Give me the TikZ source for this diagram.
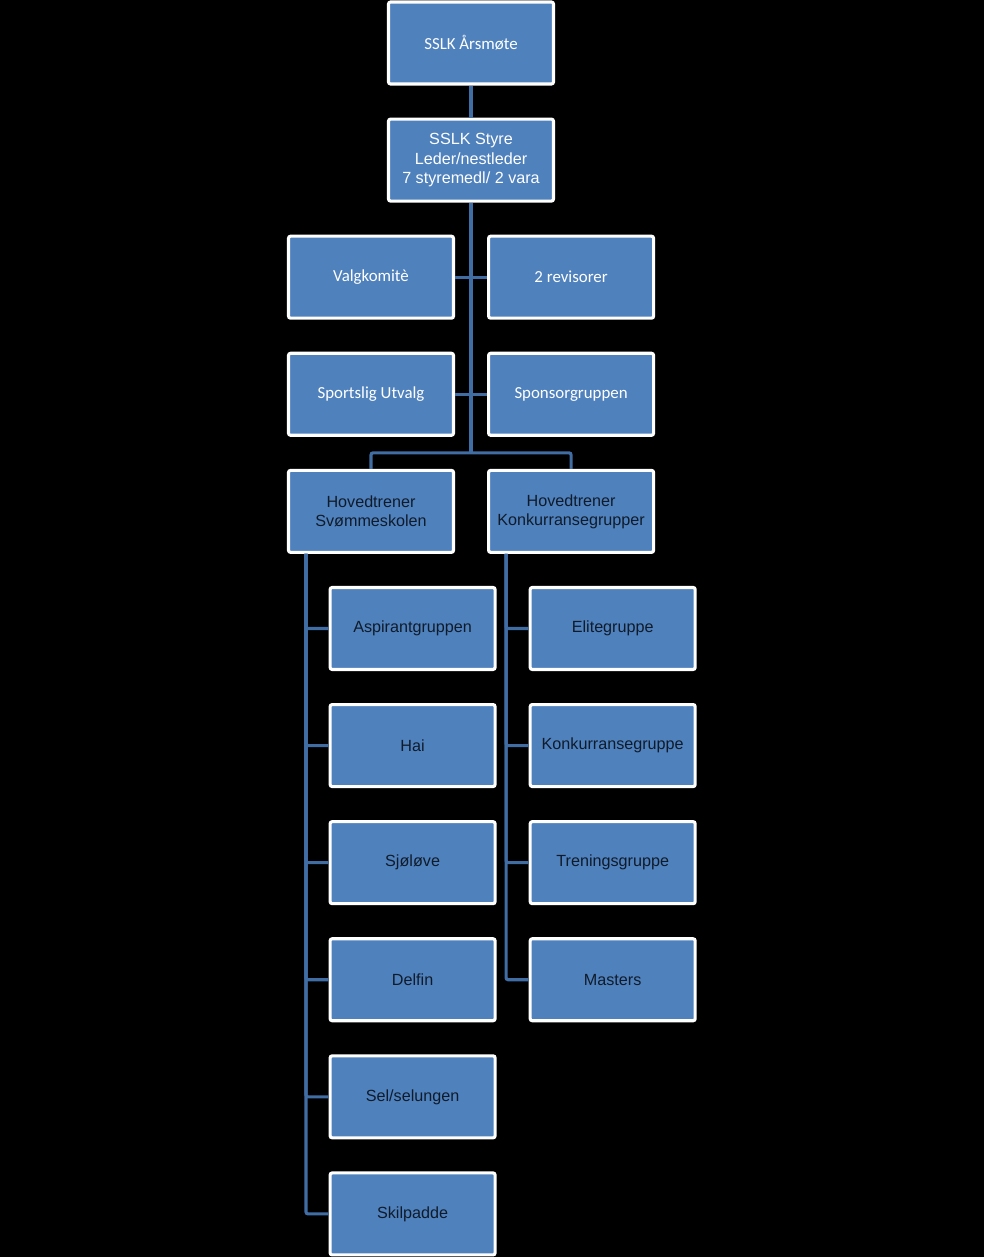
\documentclass[tikz,border=0pt]{standalone}
\usepackage{fontspec}
\setmainfont{Liberation Sans}
\newfontfamily\calibri{Carlito}
\usetikzlibrary{positioning,calc}
\definecolor{boxblue}{RGB}{79,129,189}
\definecolor{lineblue}{RGB}{65,109,165}
\definecolor{darktext}{RGB}{16,27,42}

\begin{document}
\begin{tikzpicture}[node distance=0.8cm,
  orgbox/.style={draw=white, line width=2.2pt, fill=boxblue, rounded corners=1.5pt,
    minimum width=4.125cm, minimum height=2.05cm, align=center, inner sep=1pt,
    font=\fontsize{11.5}{13.6}\selectfont, text=darktext},
  whitebox/.style={orgbox, text=white},
  calbox/.style={orgbox, text=white, font=\calibri\fontsize{12}{14}\selectfont},
  conn/.style={draw=lineblue, line width=2.2pt, rounded corners=1.5pt}]
  \fill[black] (0,0) rectangle (24.6,-31.425);
  \node[calbox] (aarsmote) at (11.775,-1.075) {SSLK Årsmøte};
  \node[whitebox, below=of aarsmote] (styre) {SSLK Styre\\Leder/nestleder\\7 styremedl/ 2 vara};
  \node[calbox, below=of styre, xshift=-2.5cm] (valg) {Valgkomitè};
  \node[calbox, right=of valg] (revis) {2 revisorer};
  \node[calbox, below=of valg] (sport) {Sportslig Utvalg};
  \node[calbox, right=of sport] (sponsor) {Sponsorgruppen};
  \node[orgbox, below=of sport] (hovsvom) {Hovedtrener\\Svømmeskolen};
  \node[orgbox, right=of hovsvom] (hovkonk) {Hovedtrener\\Konkurransegrupper};
  % svommeskolen
  \node[orgbox, below=of hovsvom, xshift=1.04cm] (aspirant) {Aspirantgruppen};
  \node[orgbox, below=of aspirant] (hai) {Hai};
  \node[orgbox, below=of hai] (sjolove) {Sjøløve};
  \node[orgbox, below=of sjolove] (delfin) {Delfin};
  \node[orgbox, below=of delfin] (sel) {Sel/selungen};
  \node[orgbox, below=of sel] (skilpadde) {Skilpadde};
  % konkurransegrupper
  \node[orgbox, below=of hovkonk, xshift=1.04cm] (elite) {Elitegruppe};
  \node[orgbox, below=of elite] (konk) {Konkurransegruppe};
  \node[orgbox, below=of konk] (trening) {Treningsgruppe};
  \node[orgbox, below=of trening] (masters) {Masters};
  % connectors
  \coordinate (fork) at ($(sport.south)!0.5!(hovsvom.north)$);
  \draw[conn] (aarsmote) -- (styre);
  \draw[conn] (styre.south) -- (styre.south |- fork);
  \draw[conn] (valg) -- (revis);
  \draw[conn] (sport) -- (sponsor);
  \draw[conn] (hovsvom.north) |- (styre.south |- fork) -| (hovkonk.north);
  \foreach \n in {aspirant,hai,sjolove,delfin,sel,skilpadde}
    \draw[conn] (\n.west) -| ([xshift=0.475cm]hovsvom.south west);
  \foreach \n in {elite,konk,trening,masters}
    \draw[conn] (\n.west) -| ([xshift=0.475cm]hovkonk.south west);
\end{tikzpicture}
\end{document}
